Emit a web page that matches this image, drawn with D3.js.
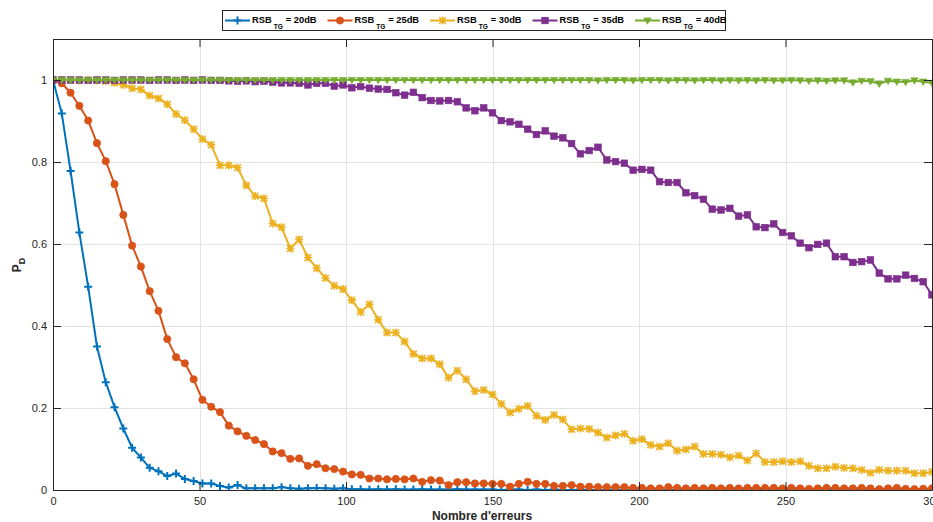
<!DOCTYPE html>
<html>
<head>
<meta charset="utf-8">
<script src="https://cdn.jsdelivr.net/npm/d3@7"></script>
<style>
  html, body { margin: 0; padding: 0; background: #fff; }
  svg { display: block; font-family: "Liberation Sans", Arial, Helvetica, sans-serif; }
</style>
</head>
<body>
<svg id="chart" width="933" height="522"></svg>
<script>
// Number of errors (x) and detection probability for each target SNR
const nbErreurs = [
  0,3,6,9,12,15,18,21,24,27,30,33,36,39,42,45,48,51,54,57,
  60,63,66,69,72,75,78,81,84,87,90,93,96,99,102,105,108,111,114,117,
  120,123,126,129,132,135,138,141,144,147,150,153,156,159,162,165,168,171,174,177,
  180,183,186,189,192,195,198,201,204,207,210,213,216,219,222,225,228,231,234,237,
  240,243,246,249,252,255,258,261,264,267,270,273,276,279,282,285,288,291,294,297,
  300
];

const pd20 = [
  1.000,0.918,0.778,0.628,0.496,0.350,0.263,0.202,0.150,0.103,
  0.079,0.054,0.046,0.034,0.040,0.027,0.022,0.016,0.016,0.010,
  0.006,0.012,0.004,0.004,0.004,0.004,0.007,0.004,0.003,0.004,
  0.005,0.004,0.003,0.004,0.002,0.002,0.001,0.002,0.001,0.002,
  0.001,0.001,0.002,0.001,0.001,0.001,0.002,0.001,0.001,0.001,
  0.001,0.000,0.001,0.001,0.000,0.001,0.000,0.001,0.000,0.000,
  0.001,0.000,0.000,0.000,0.001,0.000,0.000,0.000,0.000,0.000,
  0.000,0.000,0.000,0.000,0.000,0.000,0.000,0.000,0.000,0.000,
  0.000,0.000,0.000,0.000,0.000,0.000,0.000,0.000,0.000,0.000,
  0.000,0.000,0.000,0.000,0.000,0.000,0.000,0.000,0.000,0.000,
  0.000
];

const pd25 = [
  1.000,0.992,0.969,0.937,0.901,0.846,0.802,0.746,0.671,0.596,
  0.545,0.485,0.437,0.368,0.324,0.309,0.270,0.220,0.203,0.190,
  0.157,0.143,0.132,0.122,0.112,0.094,0.090,0.076,0.077,0.059,
  0.063,0.053,0.051,0.045,0.038,0.037,0.028,0.028,0.026,0.027,
  0.026,0.028,0.020,0.024,0.023,0.012,0.019,0.019,0.016,0.016,
  0.015,0.015,0.008,0.015,0.020,0.015,0.015,0.010,0.010,0.012,
  0.008,0.008,0.007,0.007,0.007,0.007,0.005,0.005,0.004,0.004,
  0.007,0.005,0.004,0.005,0.004,0.005,0.004,0.005,0.004,0.005,
  0.005,0.005,0.005,0.004,0.005,0.004,0.003,0.004,0.005,0.005,
  0.004,0.004,0.005,0.004,0.002,0.004,0.005,0.003,0.002,0.003,
  0.004
];

const pd30 = [
  1.000,1.000,1.000,0.999,1.000,0.999,0.997,0.993,0.988,0.980,
  0.977,0.962,0.955,0.941,0.917,0.902,0.880,0.856,0.842,0.792,
  0.792,0.786,0.743,0.717,0.711,0.650,0.641,0.589,0.611,0.567,
  0.541,0.517,0.498,0.490,0.463,0.434,0.453,0.415,0.384,0.384,
  0.362,0.332,0.321,0.321,0.307,0.274,0.291,0.270,0.241,0.244,
  0.233,0.210,0.189,0.198,0.205,0.181,0.171,0.183,0.172,0.148,
  0.150,0.149,0.140,0.128,0.133,0.137,0.120,0.124,0.110,0.106,
  0.114,0.096,0.099,0.106,0.088,0.088,0.086,0.080,0.084,0.072,
  0.089,0.068,0.068,0.070,0.068,0.070,0.059,0.053,0.053,0.057,
  0.054,0.053,0.049,0.042,0.049,0.047,0.047,0.047,0.041,0.041,
  0.044
];

const pd35 = [
  1.000,1.000,1.000,1.000,0.999,1.000,1.000,0.999,1.000,1.000,
  1.000,0.999,1.000,1.000,0.999,1.000,0.999,1.000,0.999,0.999,
  0.998,0.997,0.998,0.996,0.997,0.995,0.993,0.993,0.992,0.988,
  0.992,0.992,0.985,0.988,0.981,0.984,0.980,0.978,0.977,0.969,
  0.963,0.970,0.957,0.950,0.949,0.950,0.947,0.932,0.925,0.932,
  0.920,0.901,0.898,0.892,0.880,0.867,0.876,0.863,0.859,0.845,
  0.820,0.828,0.836,0.805,0.801,0.797,0.780,0.782,0.780,0.752,
  0.750,0.750,0.725,0.718,0.709,0.685,0.683,0.687,0.668,0.671,
  0.642,0.640,0.649,0.628,0.620,0.602,0.591,0.599,0.602,0.569,
  0.569,0.555,0.557,0.561,0.529,0.515,0.515,0.524,0.516,0.508,
  0.476
];

const pd40 = [
  1.000,1.000,1.000,1.000,1.000,1.000,1.000,1.000,1.000,1.000,
  1.000,1.000,1.000,1.000,1.000,1.000,1.000,1.000,1.000,1.000,
  1.000,1.000,1.000,1.000,1.000,1.000,1.000,1.000,1.000,1.000,
  1.000,1.000,1.000,1.000,1.000,1.000,1.000,1.000,1.000,1.000,
  1.000,1.000,1.000,1.000,1.000,1.000,1.000,1.000,1.000,1.000,
  1.000,1.000,1.000,1.000,1.000,1.000,1.000,1.000,1.000,1.000,
  1.000,1.000,0.999,1.000,1.000,1.000,0.999,1.000,1.000,1.000,
  0.999,1.000,1.000,0.999,1.000,1.000,0.999,1.000,0.999,1.000,
  0.999,1.000,0.999,0.999,1.000,0.999,0.998,0.999,0.998,0.999,
  0.999,0.994,0.998,0.997,0.991,0.998,0.996,0.995,0.999,0.996,
  0.993
];

const seriesNames = ["20dB", "25dB", "30dB", "35dB", "40dB"];
const seriesColors = ["#0072BD", "#D95319", "#EDB120", "#7E2F8E", "#77AC30"];
const seriesMarkers = ["plus", "circle", "asterisk", "square", "triangleDown"];
const seriesValues = [pd20, pd25, pd30, pd35, pd40];

const xTicks = [0, 50, 100, 150, 200, 250, 300];
const yTicks = [0, 0.2, 0.4, 0.6, 0.8, 1];

const xLabel = "Nombre d'erreurs";

// ---- layout ----
const svg = d3.select("#chart");
const plotLeft = 53, plotRight = 932, plotTop = 39, plotBottom = 490;
const axisColor = "#262626";

const x = d3.scaleLinear().domain([0, 300]).range([plotLeft, plotRight]);
const y = d3.scaleLinear().domain([0, 1.1]).range([plotBottom, plotTop]);

svg.append("rect").attr("width", 933).attr("height", 522).attr("fill", "#fff");

// grid
const grid = svg.append("g").attr("stroke", "#e3e3e3").attr("stroke-width", 1);
grid.selectAll(".gx").data(xTicks.filter(t => t > 0 && t < 300)).join("line")
  .attr("x1", d => Math.round(x(d)) + 0.5).attr("x2", d => Math.round(x(d)) + 0.5)
  .attr("y1", plotTop).attr("y2", plotBottom);
grid.selectAll(".gy").data(yTicks.filter(t => t > 0)).join("line")
  .attr("y1", d => Math.round(y(d)) + 0.5).attr("y2", d => Math.round(y(d)) + 0.5)
  .attr("x1", plotLeft).attr("x2", plotRight);

// series, clipped to the axes box
svg.append("clipPath").attr("id", "plotclip")
  .append("rect").attr("x", plotLeft).attr("y", plotTop)
  .attr("width", plotRight - plotLeft + 2).attr("height", plotBottom - plotTop);

const plot = svg.append("g").attr("clip-path", "url(#plotclip)");

function drawMarker(g, type, color) {
  if (type === "plus") {
    g.append("path").attr("d", "M-4,0H4M0,-4V4")
      .attr("stroke", color).attr("stroke-width", 2).attr("fill", "none");
  } else if (type === "circle") {
    g.append("circle").attr("r", 3.6).attr("fill", color).attr("stroke", color).attr("stroke-width", 0.8);
  } else if (type === "asterisk") {
    g.append("path").attr("d", "M-3.3,-3.3L3.3,3.3M-3.3,3.3L3.3,-3.3M-4,0H4M0,-4V4")
      .attr("stroke", color).attr("stroke-width", 1.6).attr("fill", "none");
  } else if (type === "square") {
    g.append("rect").attr("x", -3.3).attr("y", -3.3).attr("width", 6.6).attr("height", 6.6)
      .attr("fill", color).attr("stroke", color).attr("stroke-width", 0.6);
  } else if (type === "triangleDown") {
    g.append("path").attr("d", "M-3.8,-2.6L3.8,-2.6L0,3.8Z")
      .attr("fill", color).attr("stroke", color).attr("stroke-width", 0.6);
  }
}

const line = d3.line().x((d, i) => x(nbErreurs[i])).y(d => y(d));

seriesValues.forEach((vals, k) => {
  const color = seriesColors[k];
  plot.append("path").datum(vals)
    .attr("d", line)
    .attr("fill", "none").attr("stroke", color).attr("stroke-width", 2)
    .attr("stroke-linejoin", "round");
  const mk = plot.append("g");
  vals.forEach((v, i) => {
    const g = mk.append("g").attr("transform", `translate(${x(nbErreurs[i])},${y(v)})`);
    drawMarker(g, seriesMarkers[k], color);
  });
});

// axes (ticks pointing inward, boxed)
const tickLen = 8;
const styleAxis = g => {
  g.selectAll(".domain").attr("stroke", axisColor).attr("stroke-width", 1);
  g.selectAll(".tick line").attr("stroke", axisColor).attr("stroke-width", 1);
  g.selectAll(".tick text").attr("fill", axisColor).attr("font-size", 11)
    .attr("font-family", "'Liberation Sans', Arial, Helvetica, sans-serif");
};

svg.append("g").attr("transform", `translate(0,${plotBottom})`)
  .call(d3.axisBottom(x).tickValues(xTicks).tickSizeInner(-tickLen).tickSizeOuter(0).tickPadding(7))
  .call(styleAxis);
svg.append("g").attr("transform", `translate(0,${plotTop})`)
  .call(d3.axisTop(x).tickValues(xTicks).tickSizeInner(-tickLen).tickSizeOuter(0).tickFormat(""))
  .call(styleAxis);
svg.append("g").attr("transform", `translate(${plotLeft},0)`)
  .call(d3.axisLeft(y).tickValues(yTicks).tickSizeInner(-tickLen).tickSizeOuter(0).tickPadding(6)
    .tickFormat(d => d3.format("~g")(d)))
  .call(styleAxis);
svg.append("g").attr("transform", `translate(${plotRight},0)`)
  .call(d3.axisRight(y).tickValues(yTicks).tickSizeInner(-tickLen).tickSizeOuter(0).tickFormat(""))
  .call(styleAxis);

// axis titles
svg.append("text").attr("x", 482).attr("y", 520).attr("text-anchor", "middle")
  .attr("font-size", 12).attr("font-weight", "bold").attr("fill", axisColor).text(xLabel);

const yl = svg.append("text").attr("transform", "translate(21,265) rotate(-90)")
  .attr("text-anchor", "middle").attr("font-weight", "bold").attr("fill", axisColor);
yl.append("tspan").attr("font-size", 12).text("P");
yl.append("tspan").attr("font-size", 9).attr("dy", 4).text("D");

// legend
const lg = svg.append("g");
lg.append("rect").attr("x", 222.5).attr("y", 10.5).attr("width", 503).attr("height", 20)
  .attr("fill", "#fff").attr("stroke", axisColor).attr("stroke-width", 1);

const itemX = d3.scaleLinear().domain([0, 4]).range([225, 635]);
seriesNames.forEach((name, k) => {
  const x0 = itemX(k);
  const cy = 20.5;
  const item = lg.append("g");
  item.append("line").attr("x1", x0).attr("x2", x0 + 25).attr("y1", cy).attr("y2", cy)
    .attr("stroke", seriesColors[k]).attr("stroke-width", 2);
  const m = item.append("g").attr("transform", `translate(${x0 + 12.5},${cy})`);
  drawMarker(m, seriesMarkers[k], seriesColors[k]);
  const t = item.append("text").attr("x", x0 + 27).attr("y", 22.5)
    .attr("font-size", 9.3).attr("font-weight", "bold").attr("fill", "#000");
  t.append("tspan").text("RSB");
  t.append("tspan").attr("font-size", 6.6).attr("dx", 2).attr("dy", 6).text("TG");
  t.append("tspan").attr("dx", 3).attr("dy", -6).text("= " + name);
});
</script>
</body>
</html>
